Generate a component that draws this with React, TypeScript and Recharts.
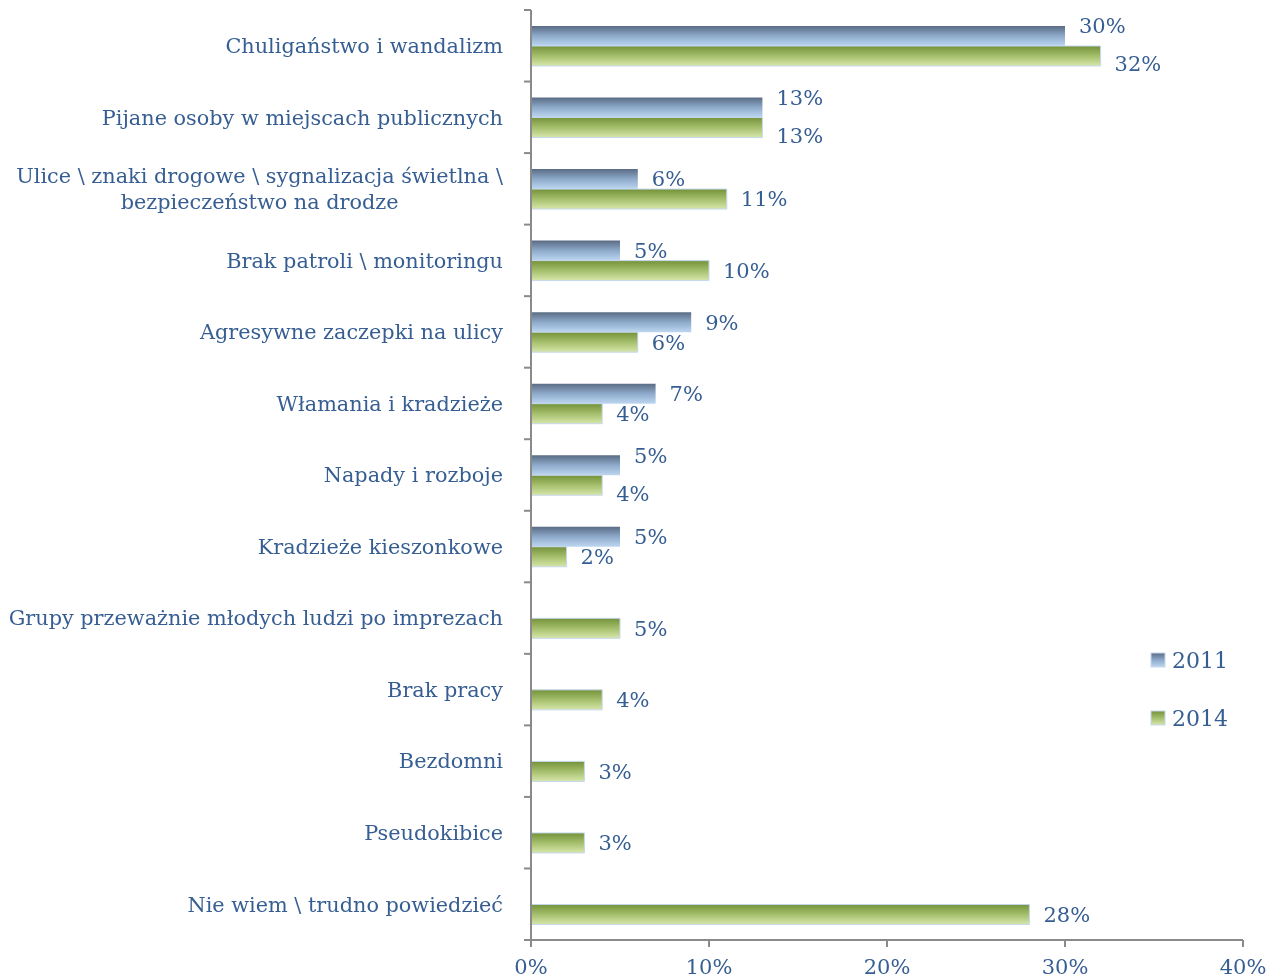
import { Bar, BarChart, LabelList, Legend, XAxis, YAxis } from "recharts";

const categories = [
  "Chuligaństwo i wandalizm",
  "Pijane osoby w miejscach publicznych",
  "Ulice \\ znaki drogowe \\ sygnalizacja świetlna \\\nbezpieczeństwo na drodze",
  "Brak patroli \\ monitoringu",
  "Agresywne zaczepki na ulicy",
  "Włamania i kradzieże",
  "Napady i rozboje",
  "Kradzieże kieszonkowe",
  "Grupy przeważnie młodych ludzi po imprezach",
  "Brak pracy",
  "Bezdomni",
  "Pseudokibice",
  "Nie wiem \\ trudno powiedzieć",
];
const values2011 = [30, 13, 6, 5, 9, 7, 5, 5, null, null, null, null, null];
const values2014 = [32, 13, 11, 10, 6, 4, 4, 2, 5, 4, 3, 3, 28];
const xTicks = [0, 10, 20, 30, 40];

const data = categories.map((name, i) => ({
  name,
  y2011: values2011[i],
  y2014: values2014[i],
}));

const FONT = "'DejaVu Serif', serif";
const TEXT = "#365e92";
const AXIS = "#8a8a8a";
const W = 1262;
const H = 1000;
const TOP = 2;
const AXIS_X = 523;
const BOTTOM = 68; // xaxis + margin
const PLOT_H = H - TOP - BOTTOM;
const BAND = PLOT_H / categories.length;
const TICK_FS = 20.8;

// measure text so wrapped labels can be centred within their block
let ctx: CanvasRenderingContext2D | null = null;
const measure = (s: string) => {
  if (!ctx) ctx = document.createElement("canvas").getContext("2d");
  if (!ctx) return s.length * TICK_FS * 0.55;
  ctx.font = `${TICK_FS}px 'DejaVu Serif'`;
  return ctx.measureText(s).width;
};

const YTick = (props: any) => {
  const { y, payload, index } = props;
  const lines = String(payload.value).split("\n");
  const lh = 26;
  const y0 = y - ((lines.length - 1) * lh) / 2;
  const right = AXIS_X - 28;
  const multi = lines.length > 1;
  const cx = multi ? right - Math.max(...lines.map(measure)) / 2 : right;
  return (
    <g>
      <line x1={AXIS_X - 7} x2={AXIS_X} y1={y - BAND / 2} y2={y - BAND / 2} stroke={AXIS} strokeWidth={2} />
      {index === categories.length - 1 && (
        <line x1={AXIS_X - 7} x2={AXIS_X} y1={y + BAND / 2} y2={y + BAND / 2} stroke={AXIS} strokeWidth={2} />
      )}
      <text textAnchor={multi ? "middle" : "end"} fontFamily={FONT} fontSize={TICK_FS} fill={TEXT}>
        {lines.map((l, i) => (
          <tspan key={i} x={cx} y={y0 + i * lh} dy="0.35em">
            {l}
          </tspan>
        ))}
      </text>
    </g>
  );
};

const makeLabel = (series: "y2011" | "y2014") => (props: any) => {
  const { x, y, width, height, value, index } = props;
  if (value == null) return null;
  const other = series === "y2011" ? values2014[index] : values2011[index];
  let dy = 0;
  if (other != null && Math.abs(other - value) < 3) dy = series === "y2011" ? -10 : 8;
  return (
    <text
      x={x + width + 14}
      y={y + height / 2 + dy}
      dy="0.35em"
      fontFamily={FONT}
      fontSize={21}
      fill={TEXT}
    >
      {value}%
    </text>
  );
};

const LegendBox = () => (
  <div style={{ fontFamily: FONT, color: TEXT, fontSize: 22 }}>
    {[
      { id: "g2011", label: "2011" },
      { id: "g2014", label: "2014" },
    ].map((it, i) => (
      <div key={it.id} style={{ display: "flex", alignItems: "center", marginTop: i ? 30 : 0, height: 28 }}>
        <svg width={16} height={16} style={{ marginRight: 6 }}>
          <rect x={1} y={1} width={14} height={14} fill={`url(#${it.id})`} stroke="#c5d8ee" />
        </svg>
        {it.label}
      </div>
    ))}
  </div>
);

export default function App() {
  return (
    <div style={{ position: "fixed", left: 0, top: 0, width: 1270, height: 979, overflow: "hidden" }}>
      <div style={{ position: "absolute", left: 8, top: 8 }}>
        <BarChart
          width={W}
          height={H}
          data={data}
          layout="vertical"
          margin={{ top: TOP, right: 27, bottom: BOTTOM - 30, left: 0 }}
          barGap={0}
          barSize={20}
        >
          <defs>
            <linearGradient id="g2011" x1="0" y1="0" x2="0" y2="1">
              <stop offset="0%" stopColor="#5a6c84" />
              <stop offset="50%" stopColor="#8eaacb" />
              <stop offset="100%" stopColor="#bdd7f1" />
            </linearGradient>
            <linearGradient id="g2014" x1="0" y1="0" x2="0" y2="1">
              <stop offset="0%" stopColor="#74923a" />
              <stop offset="50%" stopColor="#a5bf6c" />
              <stop offset="100%" stopColor="#d7e6aa" />
            </linearGradient>
          </defs>
          <XAxis
            type="number"
            domain={[0, 40]}
            ticks={xTicks}
            height={30}
            tickFormatter={(v) => `${v}%`}
            tick={{ fontFamily: FONT, fontSize: 21, fill: TEXT }}
            tickSize={7}
            tickMargin={12}
            stroke={AXIS}
            strokeWidth={2}
          />
          <YAxis
            type="category"
            dataKey="name"
            width={AXIS_X}
            tick={<YTick />}
            tickLine={false}
            interval={0}
            stroke={AXIS}
            strokeWidth={2}
          />
          <Legend
            layout="vertical"
            align="center"
            verticalAlign="middle"
            content={<LegendBox />}
            wrapperStyle={{ position: "absolute", left: 1142, top: 638, width: 110 }}
          />
          <Bar dataKey="y2011" fill="url(#g2011)" isAnimationActive={false}>
            <LabelList dataKey="y2011" content={makeLabel("y2011")} />
          </Bar>
          <Bar dataKey="y2014" fill="url(#g2014)" stroke="#c5d8ee" strokeWidth={1} isAnimationActive={false}>
            <LabelList dataKey="y2014" content={makeLabel("y2014")} />
          </Bar>
        </BarChart>
      </div>
    </div>
  );
}
